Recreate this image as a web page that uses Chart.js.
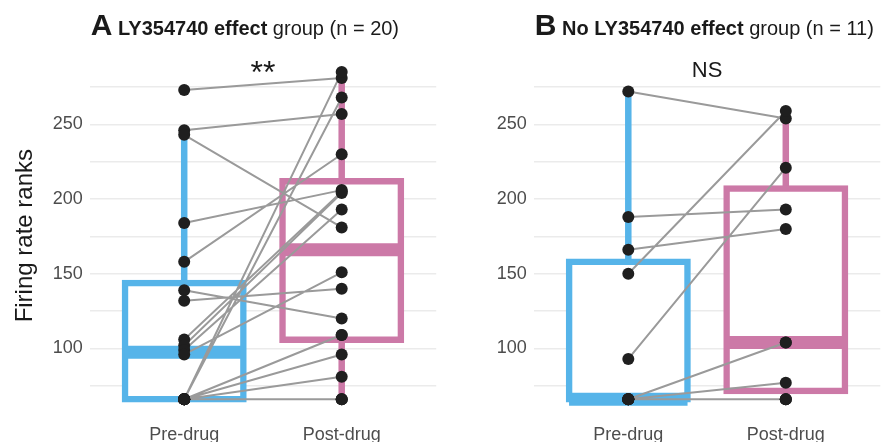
<!DOCTYPE html>
<html>
<head>
<meta charset="utf-8">
<script src="https://cdn.jsdelivr.net/npm/chart.js@4.4.0/dist/chart.umd.min.js"></script>
<style>
  html, body { margin: 0; padding: 0; background: #ffffff; }
  #wrap { position: relative; width: 882px; height: 442px; overflow: hidden; }
  canvas { position: absolute; top: 0; }
</style>
</head>
<body>
<div id="wrap">
  <canvas id="panelA" width="443" height="442" style="left:0px"></canvas>
  <canvas id="panelB" width="446" height="442" style="left:441px"></canvas>
</div>
<script>
// Firing rate ranks per neuron, before and after drug; index i pairs pre[i] with post[i]
const categories = ['Pre-drug', 'Post-drug'];

const preA  = [273, 246, 243, 184, 158, 139, 132, 106, 102, 99, 96, 66, 66, 66, 66, 66, 66, 66, 66, 66];
const postA = [281, 257, 181, 206, 230, 120, 140, 205, 204, 193, 151, 285, 268, 109, 109, 96, 81, 66, 66, 66];

const preB  = [272, 188, 166, 150, 93, 66, 66, 66, 66, 66, 66];
const postB = [254, 193, 180, 259, 221, 66, 66, 66, 77, 104, 104];

const yTickLabels = [100, 150, 200, 250];
const yGridValues = [75, 100, 125, 150, 175, 200, 225, 250, 275];

const groupColors = ['#56B4E9', '#CC79A7'];
const FONT = '"Liberation Sans", Arial, Helvetica, sans-serif';

Chart.defaults.font.family = FONT;

// Tukey box-plot statistics (quantile type 7)
function quantile(sorted, p) {
  const pos = (sorted.length - 1) * p;
  const lo = Math.floor(pos), hi = Math.ceil(pos);
  return sorted[lo] + (sorted[hi] - sorted[lo]) * (pos - lo);
}
function boxStats(values) {
  const s = [...values].sort((a, b) => a - b);
  const q1 = quantile(s, 0.25), med = quantile(s, 0.5), q3 = quantile(s, 0.75);
  const iqr = q3 - q1;
  const lo = s.find(v => v >= q1 - 1.5 * iqr);
  const hi = [...s].reverse().find(v => v <= q3 + 1.5 * iqr);
  return { q1, med, q3, lo, hi };
}

// shared y range across both panels, 5% expansion
const allValues = [...preA, ...postA, ...preB, ...postB];
const vMin = Math.min(...allValues), vMax = Math.max(...allValues);
const yPad = (vMax - vMin) * 0.05;

function panelDatasets(pre, post) {
  const stats = [boxStats(pre), boxStats(post)];
  const pairs = [];
  pre.forEach((v, i) => { pairs.push({ x: 1, y: v }, { x: 2, y: post[i] }, { x: 1.5, y: null }); });
  return [
    { // whiskers
      type: 'bar', order: 5, grouped: false,
      data: stats.map((s, i) => ({ x: i + 1, y: [s.lo, s.hi] })),
      backgroundColor: groupColors, borderWidth: 0, barThickness: 6.5, inflateAmount: 0
    },
    { // boxes
      type: 'bar', order: 4, grouped: false,
      data: stats.map((s, i) => ({ x: i + 1, y: [s.q1, s.q3] })),
      backgroundColor: '#ffffff', borderColor: groupColors, borderWidth: 6.5,
      borderSkipped: false, barThickness: 118.5, inflateAmount: 3.25
    },
    { // medians: zero-height bars widened into a thick band
      type: 'bar', order: 3, grouped: false,
      data: stats.map((s, i) => ({ x: i + 1, y: [s.med, s.med] })),
      backgroundColor: groupColors, borderWidth: 0, barThickness: 105.5, inflateAmount: 6.5
    },
    { // paired lines
      type: 'line', order: 2, data: pairs,
      borderColor: '#9A9A9A', borderWidth: 2, pointRadius: 0, spanGaps: false, fill: false
    },
    { // neurons
      type: 'scatter', order: 1,
      data: [...pre.map(v => ({ x: 1, y: v })), ...post.map(v => ({ x: 2, y: v }))],
      pointRadius: 6, pointBackgroundColor: '#1F1F1F', pointBorderWidth: 0
    }
  ];
}

function titlePlugin(letter, boldText, plainText, sig, sigFont, sigBaseline) {
  return {
    id: 'panelTitle',
    afterDraw(chart) {
      const ctx = chart.ctx;
      const left = chart.chartArea.left;
      ctx.save();
      ctx.fillStyle = '#1A1A1A';
      ctx.textBaseline = 'alphabetic';
      ctx.textAlign = 'left';
      let x = left + 1;
      const y = 35;
      ctx.font = 'bold 30px ' + FONT;
      ctx.fillText(letter, x, y);
      x += ctx.measureText(letter).width;
      ctx.font = 'bold 20px ' + FONT;
      x += ctx.measureText(' ').width;
      ctx.fillText(boldText, x, y);
      x += ctx.measureText(boldText).width;
      ctx.font = '20px ' + FONT;
      ctx.fillText(' ' + plainText, x, y);

      const xs = chart.scales.x;
      const cx = (xs.getPixelForValue(1) + xs.getPixelForValue(2)) / 2;
      ctx.textAlign = 'center';
      ctx.font = sigFont;
      ctx.fillText(sig, cx, sigBaseline);
      ctx.restore();
    }
  };
}

function makePanel(canvasId, pre, post, axisWidth, rightPad, showTitle, plugin) {
  return new Chart(document.getElementById(canvasId), {
    type: 'bar',
    data: { datasets: panelDatasets(pre, post) },
    options: {
      responsive: false,
      animation: false,
      devicePixelRatio: 1,
      layout: { padding: { left: 0, right: rightPad, top: 55.75, bottom: 0 } },
      plugins: { legend: { display: false }, tooltip: { enabled: false } },
      scales: {
        x: {
          type: 'linear', min: 0.4, max: 2.6, offset: false,
          grid: { display: false }, border: { display: false },
          afterBuildTicks: s => { s.ticks = categories.map((c, i) => ({ value: i + 1 })); },
          afterFit: s => { s.height = 26.4; },
          ticks: {
            callback: v => categories[v - 1] || '',
            font: { size: 18 }, color: '#4D4D4D', padding: 1,
            autoSkip: false, maxRotation: 0
          }
        },
        y: {
          type: 'linear', min: vMin - yPad, max: vMax + yPad,
          afterBuildTicks: s => { s.ticks = yGridValues.map(v => ({ value: v })); },
          afterFit: s => { s.width = axisWidth; },
          grid: { color: '#EBEBEB', lineWidth: 1.5, drawTicks: false },
          border: { display: false },
          ticks: {
            callback: v => (yTickLabels.includes(v) ? String(v) : ''),
            font: { size: 18 }, color: '#4D4D4D', padding: 7, autoSkip: false
          },
          title: {
            display: showTitle, text: 'Firing rate ranks', color: '#1A1A1A',
            font: { size: 24, lineHeight: 1 }, padding: { top: 13, bottom: 0 }
          }
        }
      }
    },
    plugins: [plugin]
  });
}

makePanel('panelA', preA, postA, 89.7, 6.8, true,
  titlePlugin('A', 'LY354740 effect', 'group (n = 20)', '**', '32px ' + FONT, 83));
makePanel('panelB', preB, postB, 92.8, 6.7, false,
  titlePlugin('B', 'No LY354740 effect', 'group (n = 11)', 'NS', '22px ' + FONT, 77));
</script>
</body>
</html>
